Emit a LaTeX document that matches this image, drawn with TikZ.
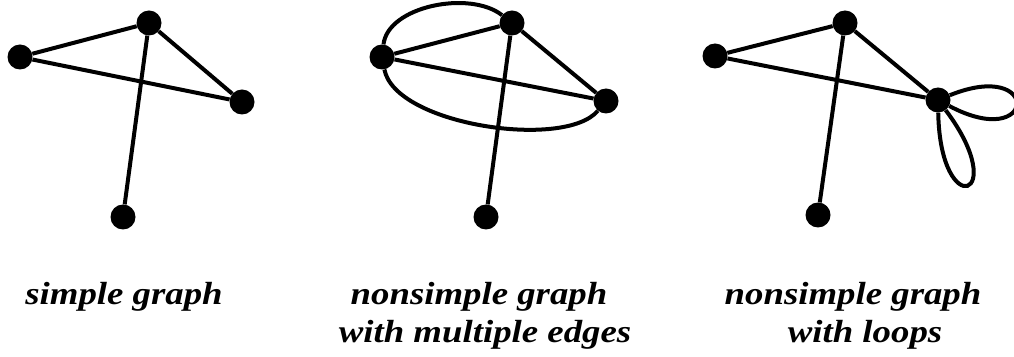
\documentclass[tikz,border=0pt]{standalone}
\usepackage{fontspec}
\newfontfamily\capfont[FakeStretch=1.15]{Liberation Serif}

\begin{document}
\begin{tikzpicture}[x=1pt, y=1pt,
    vertex/.style={circle, fill=black, minimum size=25pt, inner sep=0pt},
    link/.style={line width=4pt},
    caption/.style={anchor=base, inner sep=0pt,
      font=\capfont\bfseries\itshape\fontsize{32}{37}\selectfont}]
  \useasboundingbox (0,0) rectangle (1014,356);
  \foreach \n/\x/\y in {a1/20/299, b1/149/333, c1/242/254, d1/123/139,
                        a2/382/299, b2/512/333, c2/606/255, d2/486/139,
                        a3/715/300, b3/845/333, c3/938/256, d3/818/141}
    \node[vertex] (\n) at (\x,\y) {};
  \foreach \g in {1,2,3}
    \draw[link] (a\g) -- (b\g) (a\g) -- (c\g) (b\g) -- (c\g) (b\g) -- (d\g);
  \draw[link] (a2) .. controls (388,350) and (470,366) .. (b2);
  \draw[link] (a2) .. controls (395,231) and (565,206) .. (c2);
  \draw[link] (c3) .. controls +(22:112) and +(-28:112) .. (c3);
  \draw[link] (c3) .. controls +(-53:123) and +(-89:123) .. (c3);
  \node[caption] (cap1) at (124,52) {simple graph};
  \node[caption] (cap2a) at (479,52) {nonsimple graph};
  \node[caption] (cap2b) at (485,14) {with multiple edges};
  \node[caption] (cap3a) at (853,52) {nonsimple graph};
  \node[caption] (cap3b) at (865,14) {with loops};
\end{tikzpicture}
\end{document}
